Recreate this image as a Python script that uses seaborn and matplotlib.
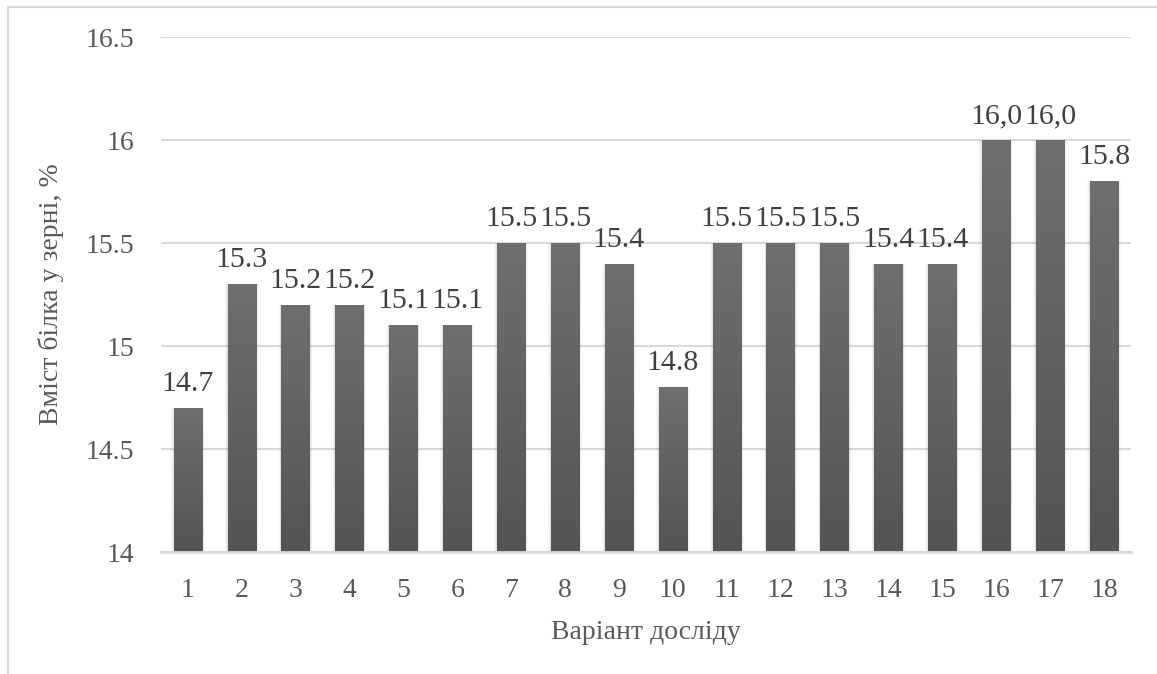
import numpy as np
import pandas as pd
import matplotlib
matplotlib.use("Agg")
import matplotlib.pyplot as plt
import seaborn as sns
from matplotlib.patches import Rectangle

# Protein content in grain by experiment variant
variants = [str(i) for i in range(1, 19)]
protein = [14.7, 15.3, 15.2, 15.2, 15.1, 15.1, 15.5, 15.5, 15.4, 14.8,
           15.5, 15.5, 15.5, 15.4, 15.4, 16.0, 16.0, 15.8]
value_labels = ["14.7", "15.3", "15.2", "15.2", "15.1", "15.1", "15.5", "15.5", "15.4",
                "14.8", "15.5", "15.5", "15.5", "15.4", "15.4", "16,0", "16,0", "15.8"]
y_ticks = [14, 14.5, 15, 15.5, 16, 16.5]
y_tick_labels = ["14", "14.5", "15", "15.5", "16", "16.5"]

df = pd.DataFrame({"variant": variants, "protein": protein})

sns.set_theme(style="white")
FONT = ["Liberation Serif", "DejaVu Serif"]
plt.rcParams["font.family"] = FONT
plt.rcParams["font.serif"] = FONT

text_color = "#595959"
label_color = "#404040"
grid_color = "#d9d9d9"

fig = plt.figure(figsize=(11.57, 6.74), dpi=100)
ax = fig.add_axes([0.139, 0.181, 0.8385, 0.764])

sns.barplot(data=df, x="variant", y="protein", order=variants, color="#606060",
            width=0.525, ax=ax, zorder=3)

ax.set_ylim(14, 16.5)
ax.set_yticks(y_ticks)
ax.set_yticklabels(y_tick_labels)
ax.set_xlim(-0.5, len(variants) - 0.5)

# Vertical gradient fill for each bar (lighter at top, darker at bottom)
grad = np.linspace(0, 1, 256).reshape(-1, 1)
cmap = matplotlib.colors.LinearSegmentedColormap.from_list("bar", ["#545454", "#6f6f6f"])
for patch in ax.patches:
    x0, y0 = patch.get_x(), patch.get_y()
    w, h = patch.get_width(), patch.get_height()
    # faint soft shadow around the bar
    for k, a in [(0.05, 0.025), (0.035, 0.035), (0.02, 0.05)]:
        ax.add_patch(Rectangle((x0 - k, y0), w + 2 * k, h,
                               facecolor="#000000", alpha=a, edgecolor="none", zorder=2.5))
    patch.set_facecolor("none")
    patch.set_edgecolor("none")
    im = ax.imshow(grad, cmap=cmap, aspect="auto", origin="lower",
                   extent=[x0, x0 + w, 14, y0 + h], zorder=3.1)
    clip = Rectangle((x0, 14), w, y0 + h - 14, transform=ax.transData)
    im.set_clip_path(clip)

ax.set_xlim(-0.5, len(variants) - 0.5)
ax.set_ylim(14, 16.5)

# Value labels above bars
for i, (v, lab) in enumerate(zip(protein, value_labels)):
    ax.annotate(lab, (i, v), xytext=(0, 8), textcoords="offset points",
                ha="center", va="bottom", fontsize=21.5, color=label_color, zorder=5,
                family=FONT)

ax.grid(axis="y", color=grid_color, linewidth=1.5, zorder=0)
ax.grid(axis="x", visible=False)
for side in ["top", "right", "left"]:
    ax.spines[side].set_visible(False)
ax.spines["bottom"].set_color(grid_color)
ax.spines["bottom"].set_linewidth(2)
ax.spines["bottom"].set_zorder(4)

ax.tick_params(axis="both", length=0, labelsize=20, labelcolor=text_color)
ax.tick_params(axis="y", pad=19)
ax.tick_params(axis="x", pad=19)
for t in ax.get_xticklabels() + ax.get_yticklabels():
    t.set_family(FONT)

ax.set_xlabel("Варіант досліду", fontsize=20, color=text_color, labelpad=12, family=FONT)
ax.set_ylabel("Вміст білка у зерні, %", fontsize=20, color=text_color, family=FONT)
ax.yaxis.set_label_coords(-(161 - 64) / 970, 0.5)

# Chart frame
fig.add_artist(Rectangle((8 / 1157, -0.1), 1.2, 1 - 7 / 674 + 0.1,
                         transform=fig.transFigure, facecolor="none",
                         edgecolor=grid_color, linewidth=1.5))

fig.savefig("out.png", dpi=100, facecolor="white")
